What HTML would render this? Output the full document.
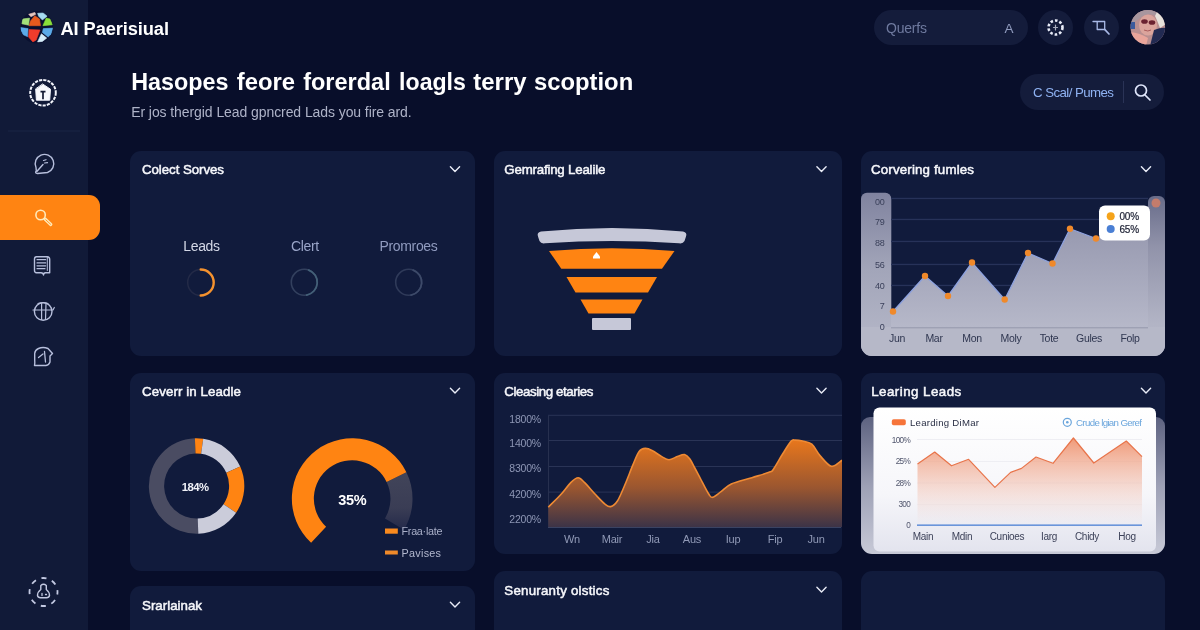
<!DOCTYPE html>
<html lang="en">
<head>
<meta charset="utf-8">
<title>AI Paerisiual</title>
<style>
*{box-sizing:border-box;margin:0;padding:0}
html,body{width:1200px;height:630px;overflow:hidden;background:#080e2a;font-family:"Liberation Sans",sans-serif;color:#fff}
.abs{position:absolute}
#side{position:absolute;left:0;top:0;width:88px;height:630px;background:#111a38}
#active{position:absolute;left:0;top:195px;width:100px;height:45px;background:#ff8412;border-radius:0 11px 11px 0}
.card{position:absolute;background:#111b3c;border-radius:11px;overflow:hidden}
.t{position:absolute;white-space:nowrap;line-height:1}
svg{position:absolute;left:0;top:0}
text{font-family:"Liberation Sans",sans-serif}
.ct{font-size:13.3px;fill:#f6f7fb;stroke:#f6f7fb;stroke-width:.5px}
.ax{font-size:10.5px;fill:#8e97b5}
</style>
</head>
<body>
<div id="side"></div>
<div id="active"></div>
<div class="card" id="c1" style="left:130px;top:151px;width:345px;height:205px"></div>
<div class="card" id="c2" style="left:494px;top:151px;width:348px;height:205px"></div>
<div class="card" id="c3" style="left:861px;top:151px;width:304px;height:205px"></div>
<div class="card" id="c4" style="left:130px;top:373px;width:345px;height:198px"></div>
<div class="card" id="c5" style="left:494px;top:373px;width:348px;height:181px"></div>
<div class="card" id="c6" style="left:861px;top:373px;width:304px;height:181px"></div>
<div class="card" id="c7" style="left:130px;top:586px;width:345px;height:60px"></div>
<div class="card" id="c8" style="left:494px;top:571px;width:348px;height:80px"></div>
<div class="card" id="c9" style="left:861px;top:571px;width:304px;height:80px"></div>
<div class="abs" style="left:874px;top:10px;width:154px;height:35px;border-radius:18px;background:#141c3b"></div>
<div class="abs" style="left:1038px;top:10px;width:35px;height:35px;border-radius:50%;background:#141c3b"></div>
<div class="abs" style="left:1084px;top:10px;width:35px;height:35px;border-radius:50%;background:#141c3b"></div>
<div class="abs" style="left:1020px;top:74px;width:144px;height:36px;border-radius:18px;background:#141c3b"></div>
<div class="abs" style="left:1123px;top:81px;width:1px;height:22px;background:#2a3356"></div>
<svg width="1200" height="630" viewBox="0 0 1200 630">
<defs>
<linearGradient id="gGrey" gradientUnits="userSpaceOnUse" x1="0" y1="205" x2="0" y2="327"><stop offset="0" stop-color="#9092aa"/><stop offset="1" stop-color="#b6b8c9"/></linearGradient>
<linearGradient id="gPanel" x1="0" y1="0" x2="0" y2="1"><stop offset="0" stop-color="#80839f"/><stop offset="0.45" stop-color="#a2a5b9"/><stop offset="1" stop-color="#b9bbcb"/></linearGradient>
<linearGradient id="gStrip" x1="0" y1="0" x2="0" y2="1"><stop offset="0" stop-color="#686c8a"/><stop offset="0.3" stop-color="#9193aa"/><stop offset="0.75" stop-color="#b2b4c5"/><stop offset="1" stop-color="#b8bac9"/></linearGradient>
<linearGradient id="gOr" x1="0" y1="0" x2="0" y2="1"><stop offset="0" stop-color="#e8771c"/><stop offset="0.55" stop-color="#9a5630"/><stop offset="1" stop-color="#3c3347"/></linearGradient>
<linearGradient id="gSal" x1="0" y1="0" x2="0" y2="1"><stop offset="0" stop-color="#f09a78"/><stop offset="1" stop-color="#f3c9bd" stop-opacity="0"/></linearGradient>
<linearGradient id="gWhite" x1="0" y1="0" x2="0" y2="1"><stop offset="0" stop-color="#ffffff"/><stop offset="0.6" stop-color="#f6f6fa"/><stop offset="1" stop-color="#e3e4ee"/></linearGradient>
<linearGradient id="gGauge" gradientUnits="userSpaceOnUse" x1="0" y1="475" x2="0" y2="530"><stop offset="0" stop-color="#414459"/><stop offset="0.6" stop-color="#3a3d55"/><stop offset="1" stop-color="#23294a"/></linearGradient>
<linearGradient id="gBack" x1="0" y1="0" x2="0" y2="1"><stop offset="0" stop-color="#5d6280"/><stop offset="0.5" stop-color="#9ea1b6"/><stop offset="1" stop-color="#c9cbd8"/></linearGradient>
<clipPath id="k3"><rect x="861" y="151" width="304" height="205" rx="11"/></clipPath>
<clipPath id="k5"><rect x="494" y="373" width="348" height="181" rx="11"/></clipPath>
<clipPath id="k6"><rect x="861" y="373" width="304" height="181" rx="11"/></clipPath>
<clipPath id="kav"><circle cx="1147.8" cy="27.3" r="17.3"/></clipPath>
<clipPath id="klogo"><circle cx="36.7" cy="27.2" r="16.2"/></clipPath>
</defs>
<circle cx="36.7" cy="27.2" r="16.2" fill="#0a1030"/>
<g clip-path="url(#klogo)">
<polygon points="28.6,14.3 34.8,12.4 35.7,14.3 31,16.7" fill="#e6c6be" stroke="#e6c6be" stroke-width=".6" stroke-linejoin="round"/>
<polygon points="34.8,15.7 39.5,19 40.5,25.7 29,25.7 30.5,21" fill="#e85a1e" stroke="#e85a1e" stroke-width=".6" stroke-linejoin="round"/>
<polygon points="37.6,13.3 43.3,12.9 47.1,16.2 42.4,20 38.6,16.2" fill="#a6dcf0" stroke="#a6dcf0" stroke-width=".6" stroke-linejoin="round"/>
<polygon points="22.4,19 29.5,18.1 28.6,25.2 21.9,23.8" fill="#a4e07a" stroke="#a4e07a" stroke-width=".6" stroke-linejoin="round"/>
<polygon points="46.2,18.1 50,19 52.4,24.8 42.9,25.7" fill="#8adf3a" stroke="#8adf3a" stroke-width=".6" stroke-linejoin="round"/>
<polygon points="20.7,27.6 28.1,28.6 27.6,36.7 23.3,34.8 21,30.5" fill="#5baae8" stroke="#5baae8" stroke-width=".6" stroke-linejoin="round"/>
<polygon points="29,29.5 40,30 36.2,40 32.9,41.9 28.6,37.1" fill="#f03c2c" stroke="#f03c2c" stroke-width=".6" stroke-linejoin="round"/>
<polygon points="43.3,28.6 52.9,28.1 51,34.3 48.1,37.1 42.4,32.4" fill="#5baae8" stroke="#5baae8" stroke-width=".6" stroke-linejoin="round"/>
<polygon points="41.4,33.8 46.7,38.1 42.4,41.4 37.6,41.9" fill="#d6eefa" stroke="#d6eefa" stroke-width=".6" stroke-linejoin="round"/>
</g>
<g fill="none" stroke="#f2f4fb" stroke-linecap="round" stroke-linejoin="round">
<circle cx="43" cy="92.7" r="12.8" stroke-dasharray="3.2 1.1" stroke-width="2" stroke-linecap="butt"/>
<path d="M42.9 84.2L50.5 89.2L49.7 100.2H36.4L35.7 89.2Z" fill="#f7f8fc" stroke-width="1"/>
<path d="M40.5 91.7H45.5M43 92V99.3" stroke="#141a33" stroke-width="1.7" stroke-linecap="butt"/>
</g>
<rect x="8" y="130.5" width="72" height="1" fill="#1b2445"/>
<g fill="none" stroke="#b7bfdc" stroke-width="1.4" stroke-linecap="round" stroke-linejoin="round">
<path d="M36 167.5A9.3 9.3 0 1 1 47.5 172.5L37.5 173.5Q34.5 173.3 36.3 171Z"/>
<path d="M43 164.5L36.8 171.5" />
<path d="M43.5 160.5l2.5-.8M44.5 163l3-.3" stroke-width="1.2"/>
<path d="M36.5 256.8H47.2Q49.7 257 49.7 259.5V272.8H45.5Q43.5 273 43.5 275Q43.3 273 41 272.8H36.5Q34.5 272.6 34.5 270.5V259Q34.5 257 36.5 256.8Z"/>
<path d="M47.3 257.5V270.5" stroke-width="1"/>
<path d="M37 259.7H45.7M37 262.9H45.7M37 265.8H45.7M37 268.7H45" stroke-width="1.2"/>
<circle cx="43.2" cy="311.5" r="8.8"/>
<path d="M33 310H53L54.3 307.5M41.6 303.5V319.5M46 303.5L45.5 319.5M38 303.5Q43 301.5 48 303.5" stroke-width="1.2"/>
<path d="M38.5 348.5Q43 346.5 48 348.5L52.5 353.5L50 356V362Q49 365 46 365.5H34.5Q35 362.5 34.7 360V353.5Q35 350 38.5 348.5Z"/>
<path d="M44.5 351.5L45.5 362M38.5 357.5L43 354" stroke-width="1.3"/>
<circle cx="43.5" cy="592" r="14" stroke-dasharray="5.2 5.8" stroke-dashoffset="2.6" stroke-width="1.8" stroke-linecap="butt" stroke="#c3c9e2"/>
<path d="M40.8 585.5Q43.5 583 46.3 585.5V589.5Q49.5 592 49.5 595.5Q49 597.7 46.5 597.7H40.5Q38 597.7 37.5 595.5Q37.5 592 40.8 589.5Z" stroke="#c3c9e2"/>
<path d="M42 593.5V595.5M45.5 594.5H46.5" stroke="#c3c9e2" stroke-width="1.3"/>
</g>
<g fill="none" stroke="#ffe9b8" stroke-linecap="round"><circle cx="40.6" cy="215" r="4.7" stroke-width="1.6"/><path d="M45 219L50.8 224.5" stroke-width="3.2"/><path d="M45.8 219.8L50.5 224.2" stroke="#ff8a1a" stroke-width=".9"/></g>
<g fill="none" stroke="#e8ecf8" stroke-width="1.6" stroke-linecap="round">
<circle cx="1055.5" cy="27.5" r="7" stroke-dasharray="2.6 2" stroke-width="2.6" stroke-linecap="butt"/>
<path d="M1055.5 25V30M1053.5 27.5H1057.5" stroke-width="1.2" opacity=".7"/>
</g>
<g fill="none" stroke="#a9b9e6" stroke-width="1.3" stroke-linecap="round" stroke-linejoin="round">
<path d="M1093 21.5H1104.7V29.5H1097.2V21.5"/><path d="M1104.9 29.7L1109 34" stroke-width="1.7"/>
</g>
<g clip-path="url(#kav)"><rect x="1130" y="9" width="36" height="37" fill="#b98f90"/><path d="M1130 9h36v14l-8-6q-9-6-18 1l-10 8Z" fill="#a8969e"/><path d="M1157 12q8 2 9 12l-6 4q-3-8-5-12Z" fill="#e6e1da"/><ellipse cx="1148" cy="25" rx="9" ry="10.5" fill="#dba49c"/><path d="M1154 30q8-3 12-2v18h-16Z" fill="#222a52"/><rect x="1129" y="22" width="6" height="7" fill="#3b5a9c"/><path d="M1130 32q10 1 18 6l-2 8h-16Z" fill="#e9a59b"/><ellipse cx="1144.5" cy="21.5" rx="3.3" ry="2.3" fill="#6a2230"/><ellipse cx="1152" cy="22.5" rx="3.3" ry="2.3" fill="#6a2230"/><path d="M1144 30q4 2 7 0" stroke="#a85a5a" stroke-width="1" fill="none"/></g>
<g fill="none" stroke="#dfe6fb" stroke-width="1.7" stroke-linecap="round"><circle cx="1141" cy="90.5" r="5.5"/><path d="M1145 95L1150 100"/></g>
<text x="60.5" y="34.5" font-size="18.3" font-weight="bold" fill="#fff" textLength="108.5" lengthAdjust="spacing">AI Paerisiual</text>
<text x="131" y="89.5" font-size="23.8" font-weight="bold" fill="#fff"><tspan x="131.2" textLength="97.3" lengthAdjust="spacingAndGlyphs">Hasopes</tspan> <tspan x="236.7" textLength="58.3" lengthAdjust="spacingAndGlyphs">feore</tspan> <tspan x="303.2" textLength="87.5" lengthAdjust="spacingAndGlyphs">forerdal</tspan> <tspan x="399.1" textLength="66.8" lengthAdjust="spacingAndGlyphs">loagls</tspan> <tspan x="473.3" textLength="53.2" lengthAdjust="spacingAndGlyphs">terry</tspan> <tspan x="534" textLength="99.2" lengthAdjust="spacingAndGlyphs">scoption</tspan> </text>
<text x="131.2" y="116.8" font-size="14" fill="#aeb3c8" textLength="280.5" lengthAdjust="spacing">Er jos thergid Lead gpncred Lads you fire ard.</text>
<text x="886" y="32.5" font-size="14" fill="#6f7a9f" letter-spacing="-.2">Querfs</text>
<text x="1004.5" y="32.5" font-size="13.5" fill="#8f9abd">A</text>
<text x="1033" y="96.8" font-size="13.3" fill="#8fb2f2" textLength="81" lengthAdjust="spacing">C Scal/ Pumes</text>
<text class="ct" x="142" y="174.3" textLength="82" lengthAdjust="spacing">Colect Sorves</text>
<text class="ct" x="504.3" y="174.3" textLength="101" lengthAdjust="spacing">Gemrafing Lealile</text>
<text class="ct" x="871" y="174.3" textLength="103" lengthAdjust="spacing">Corvering fumles</text>
<text class="ct" x="142" y="396" textLength="99" lengthAdjust="spacing">Ceverr in Leadle</text>
<text class="ct" x="504.3" y="396" textLength="89" lengthAdjust="spacing">Cleasing etaries</text>
<text class="ct" x="871.2" y="396.3" textLength="90" lengthAdjust="spacing">Learing Leads</text>
<text class="ct" x="142" y="610.3" textLength="60" lengthAdjust="spacing">Srarlainak</text>
<text class="ct" x="504.3" y="595.3" textLength="105" lengthAdjust="spacing">Senuranty olstics</text>
<path d="M450.4 166.8L455 171.4L459.6 166.8" fill="none" stroke="#e9ecf7" stroke-width="1.4" stroke-linecap="round" stroke-linejoin="round"/>
<path d="M816.9 166.8L821.5 171.4L826.1 166.8" fill="none" stroke="#e9ecf7" stroke-width="1.4" stroke-linecap="round" stroke-linejoin="round"/>
<path d="M1141.4 166.8L1146 171.4L1150.6 166.8" fill="none" stroke="#e9ecf7" stroke-width="1.4" stroke-linecap="round" stroke-linejoin="round"/>
<path d="M450.4 388.3L455 392.9L459.6 388.3" fill="none" stroke="#e9ecf7" stroke-width="1.4" stroke-linecap="round" stroke-linejoin="round"/>
<path d="M816.9 388.3L821.5 392.9L826.1 388.3" fill="none" stroke="#e9ecf7" stroke-width="1.4" stroke-linecap="round" stroke-linejoin="round"/>
<path d="M1141.4 388.3L1146 392.9L1150.6 388.3" fill="none" stroke="#e9ecf7" stroke-width="1.4" stroke-linecap="round" stroke-linejoin="round"/>
<path d="M450.4 602.3L455 606.9L459.6 602.3" fill="none" stroke="#e9ecf7" stroke-width="1.4" stroke-linecap="round" stroke-linejoin="round"/>
<path d="M816.9 587.3L821.5 591.9L826.1 587.3" fill="none" stroke="#e9ecf7" stroke-width="1.4" stroke-linecap="round" stroke-linejoin="round"/>
<text x="201.5" y="251" font-size="14" fill="#d3d7e6" text-anchor="middle" letter-spacing="-.35">Leads</text>
<text x="305" y="251" font-size="14" fill="#9aa5c8" text-anchor="middle" letter-spacing="-.35">Clert</text>
<text x="408.5" y="251" font-size="14" fill="#909bbf" text-anchor="middle" letter-spacing="-.35">Promroes</text>
<circle cx="200.7" cy="282.5" r="13" fill="none" stroke="#232a47" stroke-width="1.5"/>
<path d="M200.7 269.5A13 13 0 0 1 200.7 295.5" fill="none" stroke="#f5922e" stroke-width="2.4" stroke-linecap="round"/>
<circle cx="304.3" cy="282.3" r="13" fill="none" stroke="#33405e" stroke-width="1.6"/>
<path d="M308.7 270.1A13 13 0 0 1 306.6 295.1" fill="none" stroke="#436078" stroke-width="1.7" stroke-linecap="round"/>
<circle cx="408.7" cy="282.3" r="13" fill="none" stroke="#2f3a59" stroke-width="1.6"/>
<path d="M413.1 270.1A13 13 0 0 1 411 295.1" fill="none" stroke="#3d4a69" stroke-width="1.7" stroke-linecap="round"/>
<path d="M541 231.5Q612 224.5 683 231.5Q687.5 232.5 686 236.5L684.5 241Q683 244 679 243.3Q612 238.5 545 243.3Q541 244 539.5 241L538 236.5Q536.5 232.5 541 231.5Z" fill="#c6c8d8"/>
<path d="M549 251Q612 245.5 674.5 251L662 268.7H561.3Z" fill="#ff8412"/>
<path d="M566.5 277H657L648 292.5H575.5Z" fill="#ff8412"/>
<path d="M580.5 299.5H642.5L634.5 313.5H588.5Z" fill="#ff8412"/>
<rect x="592" y="318" width="39" height="12" rx="1" fill="#c6c8d8"/>
<path d="M593 256.5L596.5 252L600 256.5V258.5H593Z" fill="#fff"/>
<g clip-path="url(#k3)">
<rect x="861" y="192.7" width="30.3" height="170" rx="6" fill="url(#gPanel)"/>
<rect x="861" y="215" width="30" height="145" fill="url(#gPanel)" opacity="0"/>
<rect x="1148" y="196" width="17" height="170" rx="6" fill="url(#gStrip)"/>
<rect x="861" y="327" width="304" height="29" fill="#b6b8c8"/>
<rect x="891" y="197.8" width="257" height="1.3" fill="#273259"/>
<rect x="891" y="218.8" width="257" height="1.3" fill="#273259"/>
<rect x="891" y="240.8" width="257" height="1.3" fill="#273259"/>
<rect x="891" y="263.8" width="257" height="1.3" fill="#273259"/>
<rect x="891" y="284.8" width="257" height="1.3" fill="#273259"/>
<path d="M891 312L893 311.5L925 276L948 296L972 262.5L1004.7 299.5L1028 253L1052.5 263.5L1070 228.7L1096 238.5L1125 222L1148 206L1148 327L891 327Z" fill="url(#gGrey)"/>
<path d="M893 311.5L925 276L948 296L972 262.5L1004.7 299.5L1028 253L1052.5 263.5L1070 228.7L1096 238.5" fill="none" stroke="#8ea2de" stroke-width="1.3"/>
<circle cx="893" cy="311.5" r="3.2" fill="#f0892a"/>
<circle cx="925" cy="276" r="3.2" fill="#f0892a"/>
<circle cx="948" cy="296" r="3.2" fill="#f0892a"/>
<circle cx="972" cy="262.5" r="3.2" fill="#f0892a"/>
<circle cx="1004.7" cy="299.5" r="3.2" fill="#f0892a"/>
<circle cx="1028" cy="253" r="3.2" fill="#f0892a"/>
<circle cx="1052.5" cy="263.5" r="3.2" fill="#f0892a"/>
<circle cx="1070" cy="228.7" r="3.2" fill="#f0892a"/>
<circle cx="1096" cy="238.5" r="3.2" fill="#f0892a"/>
<circle cx="1156" cy="203" r="4.5" fill="#c47c6c"/>
<rect x="891" y="327.3" width="257" height="1" fill="#9497ac"/>
</g>
<rect x="1099" y="205.5" width="51" height="35" rx="6" fill="#fff"/>
<circle cx="1110.7" cy="216.3" r="4" fill="#f5a31a"/>
<circle cx="1110.7" cy="229" r="4" fill="#4a7fd4"/>
<text x="1119.5" y="220" font-size="10" fill="#1c2033" stroke="#1c2033" stroke-width=".2" letter-spacing="-.2">00%</text>
<text x="1119.5" y="232.5" font-size="10" fill="#1c2033" stroke="#1c2033" stroke-width=".2" letter-spacing="-.2">65%</text>
<text x="884.5" y="205.2" font-size="9" fill="#3a405a" text-anchor="end" letter-spacing="-.2">00</text>
<text x="884.5" y="225.2" font-size="9" fill="#3a405a" text-anchor="end" letter-spacing="-.2">79</text>
<text x="884.5" y="246.2" font-size="9" fill="#3a405a" text-anchor="end" letter-spacing="-.2">88</text>
<text x="884.5" y="267.7" font-size="9" fill="#3a405a" text-anchor="end" letter-spacing="-.2">56</text>
<text x="884.5" y="288.7" font-size="9" fill="#3a405a" text-anchor="end" letter-spacing="-.2">40</text>
<text x="884.5" y="309.2" font-size="9" fill="#3a405a" text-anchor="end" letter-spacing="-.2">7</text>
<text x="884.5" y="329.7" font-size="9" fill="#3a405a" text-anchor="end" letter-spacing="-.2">0</text>
<text x="897" y="342" font-size="10.5" fill="#2f3650" text-anchor="middle" letter-spacing="-.3">Jun</text>
<text x="934" y="342" font-size="10.5" fill="#2f3650" text-anchor="middle" letter-spacing="-.3">Mar</text>
<text x="972" y="342" font-size="10.5" fill="#2f3650" text-anchor="middle" letter-spacing="-.3">Mon</text>
<text x="1011" y="342" font-size="10.5" fill="#2f3650" text-anchor="middle" letter-spacing="-.3">Moly</text>
<text x="1049" y="342" font-size="10.5" fill="#2f3650" text-anchor="middle" letter-spacing="-.3">Tote</text>
<text x="1089" y="342" font-size="10.5" fill="#2f3650" text-anchor="middle" letter-spacing="-.3">Gules</text>
<text x="1130" y="342" font-size="10.5" fill="#2f3650" text-anchor="middle" letter-spacing="-.3">Folp</text>
<path d="M198.3 533.7A47.7 47.7 0 0 1 194.9 438.3L195.5 453.5A32.5 32.5 0 0 0 197.7 518.5Z" fill="#4a4c62"/>
<path d="M194.9 438.3A47.7 47.7 0 0 1 203.2 438.8L201.1 453.8A32.5 32.5 0 0 0 195.5 453.5Z" fill="#ff8412"/>
<path d="M203.2 438.8A47.7 47.7 0 0 1 240.2 466.6L226.3 472.8A32.5 32.5 0 0 0 201.1 453.8Z" fill="#cbccda"/>
<path d="M240.2 466.6A47.7 47.7 0 0 1 236.1 512.7L223.5 504.2A32.5 32.5 0 0 0 226.3 472.8Z" fill="#ff8412"/>
<path d="M236.1 512.7A47.7 47.7 0 0 1 198.3 533.7L197.7 518.5A32.5 32.5 0 0 0 223.5 504.2Z" fill="#cbccda"/>
<text x="195.1" y="491" font-size="11.3" font-weight="bold" fill="#f0f1f7" text-anchor="middle" letter-spacing="-.5">184%</text>
<path d="M406.4 472.3A60.3 60.3 0 0 1 403.9 529.8L385 518.4A38.3 38.3 0 0 0 386.6 481.9Z" fill="url(#gGauge)"/>
<path d="M311.1 542.8A60.3 60.3 0 1 1 406.4 472.3L386.6 481.9A38.3 38.3 0 1 0 326.1 526.7Z" fill="#ff8412"/>
<text x="352.2" y="504.5" font-size="14.5" font-weight="bold" fill="#fff" text-anchor="middle" letter-spacing="-.3">35%</text>
<rect x="385" y="528.5" width="12.8" height="5.2" fill="#f98a1e"/>
<rect x="385" y="550.5" width="12.8" height="4" fill="#f08a2a"/>
<text x="401.5" y="535.2" font-size="10.8" fill="#a9afc8" textLength="41" lengthAdjust="spacing">Fraa·late</text>
<text x="401.5" y="556.5" font-size="10.8" fill="#b4b9cf" textLength="39.5" lengthAdjust="spacing">Pavises</text>
<g clip-path="url(#k5)">
<rect x="548" y="414.8" width="294" height="1" fill="#2a3456"/>
<rect x="548" y="440" width="294" height="1" fill="#2a3456"/>
<rect x="548" y="466" width="294" height="1" fill="#2a3456"/>
<rect x="548" y="491.6" width="294" height="1" fill="#2a3456"/>
<rect x="548" y="416" width="1" height="111" fill="#27304f"/>
<path d="M548.3 507.2C550.3 505.1 556.8 498.9 560.6 494.8C564.4 490.7 568.1 485.2 571 482.4C573.9 479.5 576 477.7 578.2 477.7C580.4 477.7 581.5 479.5 584.4 482.4C587.3 485.2 592.3 491.2 595.7 494.8C599.1 498.4 602.5 502.1 605 504.1C607.5 506.1 608.5 507.1 610.6 506.6C612.7 506.1 615.1 504.5 617.4 501C619.7 497.5 622 491.5 624.6 485.5C627.2 479.5 630.5 470.6 632.9 464.9C635.3 459.2 637 454.1 639.1 451.4C641.2 448.6 643.1 448.5 645.3 448.4C647.5 448.3 649.8 449.4 652.5 450.8C655.2 452.2 659 455.1 661.8 456.6C664.5 458.1 666.4 459.7 669 459.7C671.6 459.7 674.7 457.5 677.3 456.6C679.9 455.7 682.4 454.1 684.5 454.5C686.6 454.9 688 456.4 689.7 458.7C691.4 460.9 693 464.7 694.8 468C696.6 471.3 698 474 700.3 478.3C702.6 482.6 706.5 490.6 708.6 493.8C710.7 497 710.6 497.7 712.7 497.3C714.8 496.9 717.9 493.9 721 491.7C724.1 489.5 726.1 486.3 731.3 484C736.4 481.7 745.5 479.7 751.9 477.7C758.3 475.7 765.9 473.6 769.5 472.1C773.1 470.7 771.4 472.1 773.6 469C775.8 465.9 780 458.1 782.9 453.5C785.8 448.9 789.1 443.3 791.2 441.1C793.3 438.9 793.4 440.1 795.3 440.1C797.2 440.1 799.8 440.4 802.5 441.1C805.2 441.8 808.9 441.8 811.8 444.2C814.7 446.6 816.7 451.9 820 455.6C823.3 459.3 827.7 465.5 831.4 466.3C835.1 467.1 840.2 461.3 842 460.3L842 527L548.3 527Z" fill="url(#gOr)"/>
<path d="M548.3 507.2C550.3 505.1 556.8 498.9 560.6 494.8C564.4 490.7 568.1 485.2 571 482.4C573.9 479.5 576 477.7 578.2 477.7C580.4 477.7 581.5 479.5 584.4 482.4C587.3 485.2 592.3 491.2 595.7 494.8C599.1 498.4 602.5 502.1 605 504.1C607.5 506.1 608.5 507.1 610.6 506.6C612.7 506.1 615.1 504.5 617.4 501C619.7 497.5 622 491.5 624.6 485.5C627.2 479.5 630.5 470.6 632.9 464.9C635.3 459.2 637 454.1 639.1 451.4C641.2 448.6 643.1 448.5 645.3 448.4C647.5 448.3 649.8 449.4 652.5 450.8C655.2 452.2 659 455.1 661.8 456.6C664.5 458.1 666.4 459.7 669 459.7C671.6 459.7 674.7 457.5 677.3 456.6C679.9 455.7 682.4 454.1 684.5 454.5C686.6 454.9 688 456.4 689.7 458.7C691.4 460.9 693 464.7 694.8 468C696.6 471.3 698 474 700.3 478.3C702.6 482.6 706.5 490.6 708.6 493.8C710.7 497 710.6 497.7 712.7 497.3C714.8 496.9 717.9 493.9 721 491.7C724.1 489.5 726.1 486.3 731.3 484C736.4 481.7 745.5 479.7 751.9 477.7C758.3 475.7 765.9 473.6 769.5 472.1C773.1 470.7 771.4 472.1 773.6 469C775.8 465.9 780 458.1 782.9 453.5C785.8 448.9 789.1 443.3 791.2 441.1C793.3 438.9 793.4 440.1 795.3 440.1C797.2 440.1 799.8 440.4 802.5 441.1C805.2 441.8 808.9 441.8 811.8 444.2C814.7 446.6 816.7 451.9 820 455.6C823.3 459.3 827.7 465.5 831.4 466.3C835.1 467.1 840.2 461.3 842 460.3" fill="none" stroke="#ee8a34" stroke-width="1.6"/>
<rect x="548" y="527" width="293" height="1" fill="#3a4262"/>
</g>
<text x="541" y="422.5" class="ax" text-anchor="end" letter-spacing="-.2">1800%</text>
<text x="541" y="447" class="ax" text-anchor="end" letter-spacing="-.2">1400%</text>
<text x="541" y="472" class="ax" text-anchor="end" letter-spacing="-.2">8300%</text>
<text x="541" y="497.5" class="ax" text-anchor="end" letter-spacing="-.2">4200%</text>
<text x="541" y="523" class="ax" text-anchor="end" letter-spacing="-.2">2200%</text>
<text x="572" y="543" font-size="11" fill="#9099b6" text-anchor="middle" letter-spacing="-.2">Wn</text>
<text x="612" y="543" font-size="11" fill="#9099b6" text-anchor="middle" letter-spacing="-.2">Mair</text>
<text x="653" y="543" font-size="11" fill="#9099b6" text-anchor="middle" letter-spacing="-.2">Jia</text>
<text x="692" y="543" font-size="11" fill="#9099b6" text-anchor="middle" letter-spacing="-.2">Aus</text>
<text x="733" y="543" font-size="11" fill="#9099b6" text-anchor="middle" letter-spacing="-.2">Iup</text>
<text x="775" y="543" font-size="11" fill="#9099b6" text-anchor="middle" letter-spacing="-.2">Fip</text>
<text x="816" y="543" font-size="11" fill="#9099b6" text-anchor="middle" letter-spacing="-.2">Jun</text>
<g clip-path="url(#k6)">
<rect x="861" y="417" width="304" height="140" rx="9" fill="url(#gBack)"/>
</g>
<rect x="873.5" y="407.5" width="282.5" height="144" rx="6" fill="url(#gWhite)"/>
<rect x="917" y="439" width="225" height="1" fill="#eeeef3"/>
<rect x="917" y="461" width="225" height="1" fill="#eeeef3"/>
<rect x="917" y="482.5" width="225" height="1" fill="#eeeef3"/>
<rect x="917" y="504" width="225" height="1" fill="#eeeef3"/>
<path d="M917.5 464L934.7 452L951.5 465.8L968.6 459.3L994.9 487.4L1010.6 472.4L1021.5 468.4L1036 457L1053 463.3L1073.4 438L1093.8 463L1126.3 441L1142 456.7L1142 525L917.5 525Z" fill="url(#gSal)"/>
<path d="M917.5 464L934.7 452L951.5 465.8L968.6 459.3L994.9 487.4L1010.6 472.4L1021.5 468.4L1036 457L1053 463.3L1073.4 438L1093.8 463L1126.3 441L1142 456.7" fill="none" stroke="#e8744a" stroke-width="1.2" stroke-linejoin="round"/>
<rect x="917" y="524.5" width="225" height="1.3" fill="#4a7fd4"/>
<rect x="891.8" y="419.2" width="14" height="6" rx="1.8" fill="#f6743a"/>
<text x="910" y="425.5" font-size="9.6" fill="#2b3046" textLength="69" lengthAdjust="spacing">Learding DiMar</text>
<circle cx="1067.3" cy="422.3" r="4" fill="none" stroke="#6aa5dc" stroke-width="1.2"/><circle cx="1067.3" cy="422.3" r="1.3" fill="#6aa5dc"/>
<text x="1076" y="425.5" font-size="9.7" fill="#6aa5dc" textLength="66" lengthAdjust="spacing">Crude lgian Geref</text>
<text x="910" y="442.6" font-size="8.2" fill="#50556c" text-anchor="end" letter-spacing="-.7">100%</text>
<text x="910" y="464.3" font-size="8.2" fill="#50556c" text-anchor="end" letter-spacing="-.7">25%</text>
<text x="910" y="485.6" font-size="8.2" fill="#50556c" text-anchor="end" letter-spacing="-.7">28%</text>
<text x="910" y="506.8" font-size="8.2" fill="#50556c" text-anchor="end" letter-spacing="-.7">300</text>
<text x="910" y="527.5" font-size="8.2" fill="#50556c" text-anchor="end" letter-spacing="-.7">0</text>
<text x="923" y="540" font-size="10" fill="#3d4259" text-anchor="middle" letter-spacing="-.3">Main</text>
<text x="962" y="540" font-size="10" fill="#3d4259" text-anchor="middle" letter-spacing="-.3">Mdin</text>
<text x="1007" y="540" font-size="10" fill="#3d4259" text-anchor="middle" letter-spacing="-.3">Cunioes</text>
<text x="1049" y="540" font-size="10" fill="#3d4259" text-anchor="middle" letter-spacing="-.3">Iarg</text>
<text x="1087" y="540" font-size="10" fill="#3d4259" text-anchor="middle" letter-spacing="-.3">Chidy</text>
<text x="1127" y="540" font-size="10" fill="#3d4259" text-anchor="middle" letter-spacing="-.3">Hog</text>
</svg>
</body>
</html>
